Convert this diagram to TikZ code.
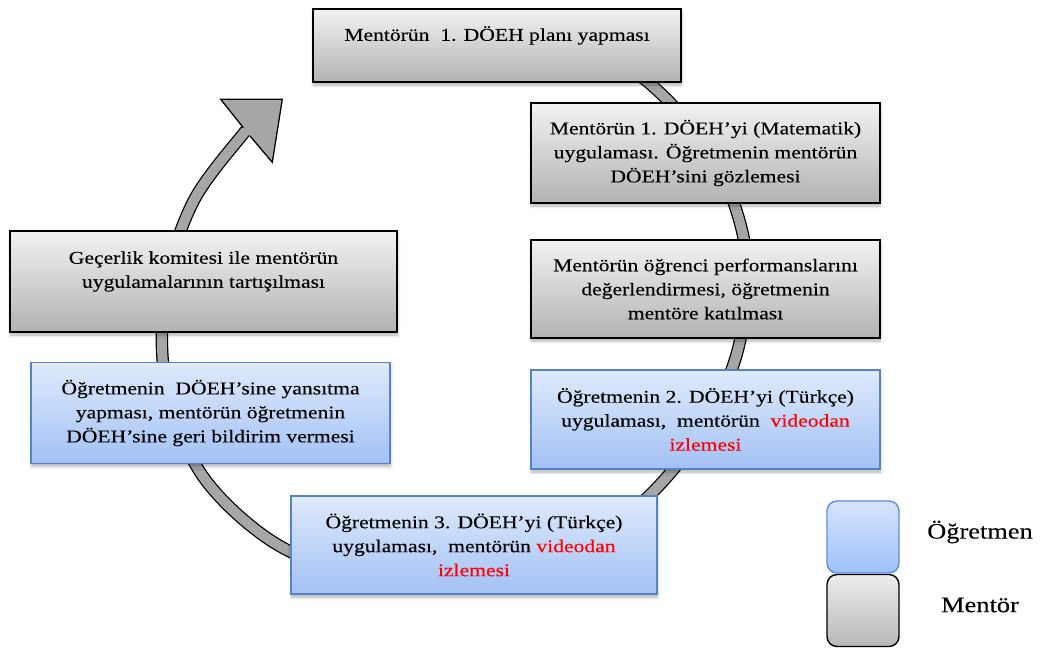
\documentclass[tikz,border=0pt]{standalone}
\usepackage{fontspec}
\usetikzlibrary{shadows.blur}
\newfontfamily\boxfont{Liberation Serif}[FakeStretch=1.2, FakeBold=0.2]
\definecolor{mgTop}{RGB}{242,242,242}
\definecolor{mgBot}{RGB}{178,178,178}
\definecolor{tbTop}{RGB}{223,234,252}
\definecolor{tbBot}{RGB}{162,193,244}
\definecolor{tbLine}{RGB}{84,130,200}
\definecolor{kgTop}{RGB}{236,236,236}
\definecolor{kgBot}{RGB}{184,184,184}
\definecolor{lgTop}{RGB}{214,228,253}
\definecolor{lgBot}{RGB}{158,192,247}
\definecolor{lgLine}{RGB}{90,142,222}
\definecolor{bandgrey}{RGB}{166,166,166}
\definecolor{hl}{RGB}{255,0,0}

\begin{document}
\begin{tikzpicture}[x=1pt,y=-1pt,
  boxshadow/.style={blur shadow={shadow xshift=0.5pt, shadow yshift=-3pt,
      shadow blur radius=3pt, shadow opacity=30}},
  stagetext/.style={align=center, inner sep=0pt,
      font=\boxfont\fontsize{18}{24}\selectfont},
  mentorbox/.style={stagetext, draw=black, line width=1.2pt,
      top color=mgTop, bottom color=mgBot, boxshadow},
  teacherbox/.style={stagetext, draw=tbLine, line width=1.2pt,
      top color=tbTop, bottom color=tbBot, boxshadow},
  keybox/.style={minimum width=72pt, minimum height=72pt, rounded corners=10pt,
      line width=1.4pt},
  keytext/.style={inner sep=0pt, font=\boxfont\fontsize{22}{24}\selectfont},
  bandout/.style={line width=12.5pt, black},
  bandin/.style={line width=10pt, bandgrey},
]
\useasboundingbox (0,0) rectangle (1040,651);

% centre line of the circular arrow band (one point every 19 degrees,
% the radius shrinking towards the arrow head; the last point lies
% under the head)
\def\bandpath{plot[smooth, tension=0.55] coordinates {
  (569.8,32.5) (651.6,85.1) (715.5,160.7) (746.5,255.8) (736.6,354.5)
  (694.5,441.5) (631.7,511.6) (551.6,559.5) (460.9,582.6) (365.8,577.7)
  (274.5,542.9) (202.1,475.2) (165.8,383.7) (165.2,288.2) (193.5,201.1)
  (246.1,130.2) (261,113)}}
\draw[bandout] \bandpath;
\draw[bandin] \bandpath;

% arrow head
\coordinate (hl) at (243.3,127.7);
\coordinate (hr) at (250,136);
\fill[bandgrey] (hl) -- (220.7,99.3) -- (282.3,99.3) -- (272.3,162.3) -- (hr) -- cycle;
\draw[black, line width=1.25pt, line join=miter]
  (hl) -- (220.7,99.3) -- (282.3,99.3) -- (272.3,162.3) -- (hr);

% stages
\node[mentorbox, minimum width=368pt, minimum height=73pt] (s1) at (497,45.5)
  {Mentörün\ \ 1. DÖEH planı yapması\\~};
\node[mentorbox, minimum width=349pt, minimum height=100pt] (s2) at (705.5,153)
  {Mentörün 1. DÖEH’yi (Matematik)\\uygulaması. Öğretmenin mentörün\\DÖEH’sini gözlemesi};
\node[mentorbox, minimum width=349pt, minimum height=98pt] (s3) at (705.5,289)
  {Mentörün öğrenci performanslarını\\değerlendirmesi, öğretmenin\\mentöre katılması};
\node[teacherbox, minimum width=349pt, minimum height=99pt] (s4) at (705.5,419.5)
  {Öğretmenin 2. DÖEH’yi (Türkçe)\\uygulaması,\ \ mentörün\ \ \textcolor{hl}{videodan}\\\textcolor{hl}{izlemesi}};
\node[teacherbox, minimum width=366pt, minimum height=98pt] (s5) at (474,545)
  {Öğretmenin 3. DÖEH’yi (Türkçe)\\uygulaması,\ \ mentörün \textcolor{hl}{videodan}\\\textcolor{hl}{izlemesi}};
\node[teacherbox, minimum width=359pt, minimum height=101pt] (s6) at (210.5,413)
  {Öğretmenin\ \ DÖEH’sine yansıtma\\yapması, mentörün öğretmenin\\DÖEH’sine geri bildirim vermesi};
\node[mentorbox, minimum width=387pt, minimum height=101pt] (s7) at (203.5,281.5)
  {Geçerlik komitesi ile mentörün\\uygulamalarının tartışılması\\~};

% key
\node[keybox, draw=black, top color=kgTop, bottom color=kgBot] (kgrey) at (863,610.5) {};
\node[keybox, draw=lgLine, top color=lgTop, bottom color=lgBot] (kblue) at (863,537) {};
\node[keytext] (kblueText) at (980,532) {Öğretmen};
\node[keytext] (kgreyText) at (980,605) {Mentör};
\end{tikzpicture}
\end{document}
